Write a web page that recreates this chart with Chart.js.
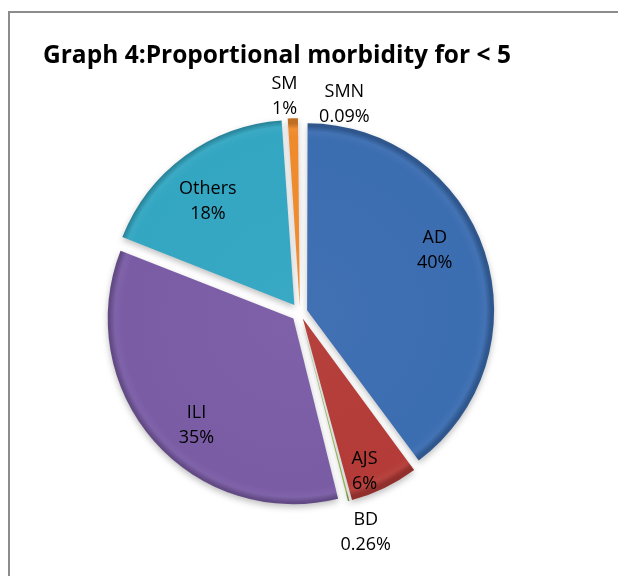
<!DOCTYPE html>
<html>
<head>
<meta charset="utf-8">
<script src="https://cdn.jsdelivr.net/npm/chart.js@4/dist/chart.umd.min.js"></script>
<style>
  html, body { margin: 0; padding: 0; background: #fff; overflow: hidden; }
  #frame { position: absolute; left: 8px; top: 11px; width: 700px; height: 700px;
           border-top: 2px solid #8c8c8c; border-left: 2px solid #8c8c8c; }
  #myChart { position: absolute; left: 0; top: 0; }
</style>
</head>
<body>
<div id="frame"></div>
<canvas id="myChart" width="618" height="576"></canvas>
<script>
var labels = ["AD", "AJS", "BD", "ILI", "Others", "SM", "SMN"];
var values = [40, 6, 0.26, 35, 18, 1, 0.09];
var sliceColors = ["#3b6db1", "#b43b37", "#8fb04f", "#7a5ca5", "#33a6c2", "#ef8a2c", "#4a6fa8"];

var total = values.reduce(function (a, b) { return a + b; }, 0);
var explode = 10.5;   // px each slice is pulled out
var pieRadius = 184;

// label placement: inside for big slices, outside for tiny ones, plus small nudges
var labelSpots = [
  { out: false, dx: -15, dy: -13 },
  { out: false, dx: -4, dy: 17 },
  { out: true, dx: 8, dy: -3 },
  { out: false, dx: 15, dy: 9 },
  { out: false, dx: 1, dy: 16 },
  { out: true, dx: -7, dy: 14 },
  { out: true, dx: 45, dy: 22 }
];

function shade(hex, amt) {
  var n = parseInt(hex.slice(1), 16);
  var r = (n >> 16) & 255, g = (n >> 8) & 255, b = n & 255;
  function f(c) { return Math.max(0, Math.min(255, Math.round(amt < 0 ? c * (1 + amt) : c + (255 - c) * amt))); }
  return "rgb(" + f(r) + "," + f(g) + "," + f(b) + ")";
}

var sliceLabels = {
  id: "sliceLabels",
  afterDatasetsDraw: function (chart) {
    var ctx = chart.ctx;
    var arcs = chart.getDatasetMeta(0).data;
    ctx.save();
    ctx.fillStyle = "#000";
    ctx.font = "18px 'Open Sans'";
    ctx.textAlign = "center";
    ctx.textBaseline = "middle";
    arcs.forEach(function (arc, i) {
      var spot = labelSpots[i];
      var mid = (arc.startAngle + arc.endAngle) / 2;
      var d = explode + (spot.out ? arc.outerRadius + 36 : arc.outerRadius * 0.8);
      var x = arc.x + Math.cos(mid) * d + spot.dx;
      var y = arc.y + Math.sin(mid) * d + spot.dy;
      ctx.fillText(labels[i], x, y - 12.5);
      ctx.fillText(values[i] + "%", x, y + 12.5);
    });
    ctx.restore();
  }
};

var softShadow = {
  id: "softShadow",
  beforeDatasetsDraw: function (chart) {
    var ctx = chart.ctx;
    ctx.save();
    ctx.shadowColor = "rgba(0,0,0,0.25)";
    ctx.shadowBlur = 6;
    ctx.shadowOffsetY = 3;
  },
  afterDatasetsDraw: function (chart) {
    chart.ctx.restore();
  }
};

new Chart("myChart", {
  type: "pie",
  data: {
    labels: labels,
    datasets: [{
      data: values,
      borderWidth: 0,
      radius: pieRadius,
      backgroundColor: function (c) {
        var base = sliceColors[c.dataIndex];
        var area = c.chart.chartArea;
        if (!area) return base;
        var cx = (area.left + area.right) / 2, cy = (area.top + area.bottom) / 2;
        var g = c.chart.ctx.createRadialGradient(cx, cy, 0, cx, cy, pieRadius);
        g.addColorStop(0, shade(base, 0.03));
        g.addColorStop(0.93, base);
        g.addColorStop(0.97, shade(base, 0.04));
        g.addColorStop(1, shade(base, -0.2));
        return g;
      },
      // Chart.js moves an arc by offset/4*(1+fix); pick offset so every slice moves the same distance
      offset: function (c) {
        var circ = c.raw / total * Math.PI * 2;
        var fix = 1 - Math.sin(Math.min(Math.PI, circ));
        return explode * 4 / (1 + fix);
      }
    }]
  },
  options: {
    responsive: false,
    animation: false,
    layout: { padding: { left: 43, right: 61, top: 0, bottom: 22 } },
    plugins: {
      legend: { display: false },
      tooltip: { enabled: false },
      title: {
        display: true,
        text: "Graph 4:Proportional morbidity for < 5",
        align: "start",
        color: "#000",
        font: { family: "'Open Sans'", size: 24.5, weight: "bold", lineHeight: 1.2 },
        padding: { top: 41, bottom: 1 }
      }
    }
  },
  plugins: [softShadow, sliceLabels]
});
</script>
</body>
</html>
